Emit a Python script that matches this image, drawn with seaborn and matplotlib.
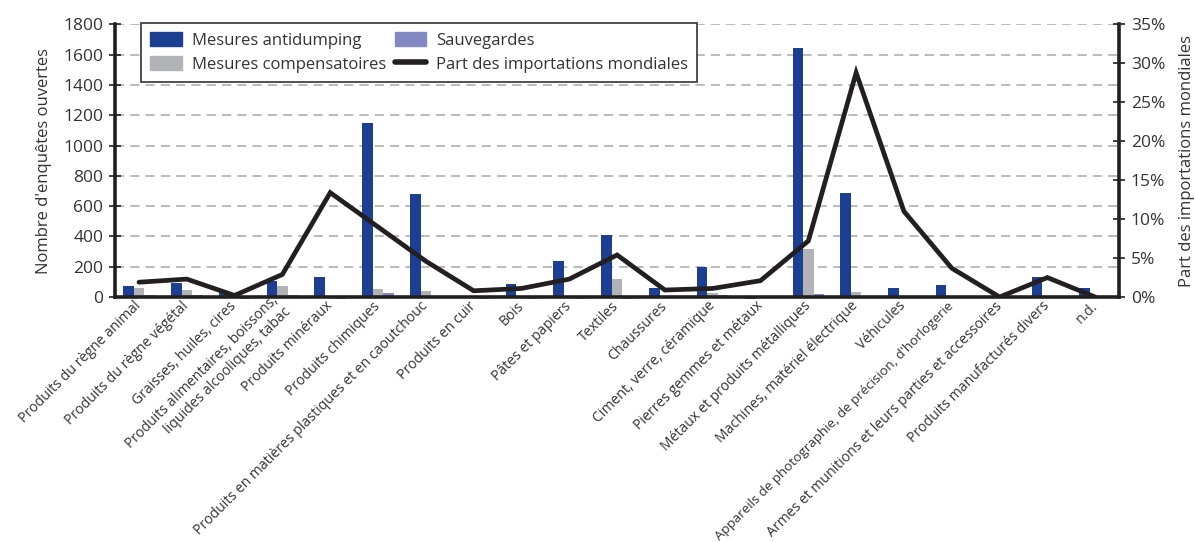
import numpy as np
import pandas as pd
import matplotlib
matplotlib.use("Agg")
import matplotlib.pyplot as plt
import seaborn as sns
from matplotlib.lines import Line2D
from matplotlib.patches import Patch

# Secteurs (SH)
categories = [
    "Produits du règne animal",
    "Produits du règne végétal",
    "Graisses, huiles, cires",
    "Produits alimentaires, boissons,\nliquides alcooliques, tabac",
    "Produits minéraux",
    "Produits chimiques",
    "Produits en matières plastiques et en caoutchouc",
    "Produits en cuir",
    "Bois",
    "Pâtes et papiers",
    "Textiles",
    "Chaussures",
    "Ciment, verre, céramique",
    "Pierres gemmes et métaux",
    "Métaux et produits métalliques",
    "Machines, matériel électrique",
    "Véhicules",
    "Appareils de photographie, de précision, d'horlogerie",
    "Armes et munitions et leurs parties et accessoires",
    "Produits manufacturés divers",
    "n.d.",
]

antidumping = [72, 94, 30, 105, 133, 1152, 678, 0, 86, 238, 409, 57, 195, -15,
               1642, 688, 59, 80, 0, 132, 59]
compensatoires = [59, 48, 0, 73, 0, 52, 39, 0, 0, 8, 116, 8, 28, 0,
                  315, 32, 0, 0, 0, 5, 5]
sauvegardes = [12, 12, -15, 12, -15, 28, 0, -15, -15, -15, -15, 0, 14, 0,
               18, 0, -8, -8, 0, 0, 0]
part_importations = [1.9, 2.3, 0.2, 2.9, 13.4, 9.0, 4.6, 0.8, 1.1, 2.3, 5.4, 0.9,
                     1.1, 2.1, 7.2, 28.8, 11.0, 3.7, 0.0, 2.5, 0.0]

series = ["Mesures antidumping", "Mesures compensatoires", "Sauvegardes"]
colors = ["#1c3f94", "#b1b3b6", "#8288c2"]
ink = "#231f20"
txt = "#333333"

df = pd.DataFrame({
    "secteur": categories * 3,
    "mesure": [series[0]] * 21 + [series[1]] * 21 + [series[2]] * 21,
    "n": antidumping + compensatoires + sauvegardes,
})

sns.set_style("white")
plt.rcParams["font.family"] = ["Open Sans", "DejaVu Sans"]
plt.rcParams["text.color"] = txt
plt.rcParams["xtick.color"] = ink
plt.rcParams["ytick.color"] = ink
plt.rcParams["xtick.labelcolor"] = txt
plt.rcParams["ytick.labelcolor"] = txt

fig = plt.figure(figsize=(11.96, 5.42), dpi=100)
ax = fig.add_axes([0.0962, 0.452, 0.8395, 0.503])

sns.barplot(data=df, x="secteur", y="n", hue="mesure", hue_order=series,
            order=categories, palette=colors, saturation=1, width=0.66,
            ax=ax, legend=False, errorbar=None)
for p in ax.patches:
    p.set_clip_on(False)
    p.set_linewidth(0)

ax.set_ylim(0, 1800)
ax.set_xlim(-0.5, len(categories) - 0.5)
ax.set_yticks(np.arange(0, 1801, 200))
ax.set_axisbelow(True)
ax.yaxis.grid(True, color="#a8a8a8", linewidth=1.1, linestyle=(0, (6, 4)))
ax.set_ylabel("Nombre d'enquêtes ouvertes", fontsize=12, color=txt, labelpad=8)
ax.set_xlabel("")

# graduations de l'axe x entre les secteurs
ax.set_xticks(np.arange(len(categories)))
ax.set_xticks(np.arange(-0.5, len(categories), 1), minor=True)
ax.tick_params(axis="x", which="major", length=0, pad=5)
ax.tick_params(axis="x", which="minor", length=6, width=1.2, direction="out")
ax.set_xticklabels(categories, rotation=45, ha="right", va="center",
                   rotation_mode="anchor", fontsize=10.1)
# le libellé le plus long doit tenir dans le cadre
for lab in ax.get_xticklabels():
    if len(lab.get_text()) > 50 and "\n" not in lab.get_text():
        lab.set_fontsize(9.6)
ax.tick_params(axis="y", direction="inout", length=9, width=1.2, labelsize=12.5, pad=4)

ax2 = ax.twinx()
sns.lineplot(x=np.arange(len(categories)), y=part_importations, ax=ax2,
             color=ink, linewidth=3.4, solid_joinstyle="miter")
ax2.set_ylim(0, 35)
ax2.set_yticks(np.arange(0, 36, 5))
ax2.set_yticklabels([f"{v}%" for v in range(0, 36, 5)])
ax2.tick_params(axis="y", direction="inout", length=9, width=1.2, labelsize=12.5, pad=4)
ax2.set_ylabel("Part des importations mondiales", fontsize=12, color=txt, labelpad=10)

for a in (ax, ax2):
    a.spines["top"].set_visible(False)
    for s in ("left", "right", "bottom"):
        a.spines[s].set_color(ink)
        a.spines[s].set_linewidth(2.6)
ax.spines["right"].set_visible(False)
ax2.spines["left"].set_visible(False)
ax2.spines["bottom"].set_visible(False)

handles = [
    Patch(color=colors[0], label=series[0]),
    Patch(color=colors[1], label=series[1]),
    Patch(color=colors[2], label=series[2]),
    Line2D([0], [0], color=ink, linewidth=4, solid_capstyle="round",
           label="Part des importations mondiales"),
]
leg = ax2.legend(handles=handles, ncol=2, loc="upper left",
                 bbox_to_anchor=(0.118, 0.958), bbox_transform=fig.transFigure,
                 borderaxespad=0, fontsize=12, frameon=True, fancybox=False,
                 framealpha=1, edgecolor="#333333", handlelength=1.9,
                 handleheight=0.9, columnspacing=0.5, labelspacing=0.45,
                 handletextpad=0.6, borderpad=0.55)
leg.get_frame().set_linewidth(1.2)
for t in leg.get_texts():
    t.set_color(txt)

fig.savefig("out.png", dpi=100)
